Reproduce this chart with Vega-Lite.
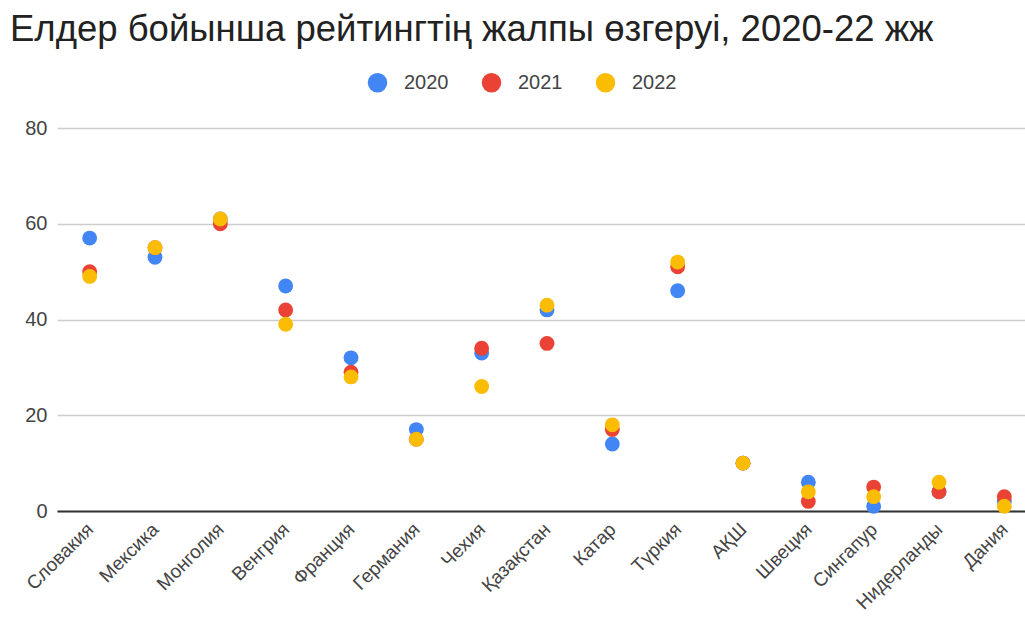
{
  "$schema": "https://vega.github.io/schema/vega-lite/v6.json",
  "autosize": {"type": "none"},
  "width": 980,
  "height": 383,
  "padding": {"left": 57, "top": 128, "right": 0, "bottom": 111},
  "background": "white",
  "title": {
    "text": "Елдер бойынша рейтингтің жалпы өзгеруі, 2020-22 жж",
    "anchor": "start",
    "frame": "group",
    "dx": -47,
    "offset": 4,
    "dy": -20,
    "font": "Liberation Sans",
    "fontSize": 36.5,
    "fontWeight": "normal",
    "color": "#222222"
  },
  "config": {
    "view": {"stroke": null},
    "font": "Liberation Sans"
  },
  "data": {
    "values": [
      {"country": "Словакия", "year": "2020", "value": 57},
      {"country": "Мексика", "year": "2020", "value": 53},
      {"country": "Монголия", "year": "2020", "value": 61},
      {"country": "Венгрия", "year": "2020", "value": 47},
      {"country": "Франция", "year": "2020", "value": 32},
      {"country": "Германия", "year": "2020", "value": 17},
      {"country": "Чехия", "year": "2020", "value": 33},
      {"country": "Қазақстан", "year": "2020", "value": 42},
      {"country": "Катар", "year": "2020", "value": 14},
      {"country": "Түркия", "year": "2020", "value": 46},
      {"country": "АҚШ", "year": "2020", "value": 10},
      {"country": "Швеция", "year": "2020", "value": 6},
      {"country": "Сингапур", "year": "2020", "value": 1},
      {"country": "Нидерланды", "year": "2020", "value": 4},
      {"country": "Дания", "year": "2020", "value": 2},
      {"country": "Словакия", "year": "2021", "value": 50},
      {"country": "Мексика", "year": "2021", "value": 55},
      {"country": "Монголия", "year": "2021", "value": 60},
      {"country": "Венгрия", "year": "2021", "value": 42},
      {"country": "Франция", "year": "2021", "value": 29},
      {"country": "Германия", "year": "2021", "value": 15},
      {"country": "Чехия", "year": "2021", "value": 34},
      {"country": "Қазақстан", "year": "2021", "value": 35},
      {"country": "Катар", "year": "2021", "value": 17},
      {"country": "Түркия", "year": "2021", "value": 51},
      {"country": "АҚШ", "year": "2021", "value": 10},
      {"country": "Швеция", "year": "2021", "value": 2},
      {"country": "Сингапур", "year": "2021", "value": 5},
      {"country": "Нидерланды", "year": "2021", "value": 4},
      {"country": "Дания", "year": "2021", "value": 3},
      {"country": "Словакия", "year": "2022", "value": 49},
      {"country": "Мексика", "year": "2022", "value": 55},
      {"country": "Монголия", "year": "2022", "value": 61},
      {"country": "Венгрия", "year": "2022", "value": 39},
      {"country": "Франция", "year": "2022", "value": 28},
      {"country": "Германия", "year": "2022", "value": 15},
      {"country": "Чехия", "year": "2022", "value": 26},
      {"country": "Қазақстан", "year": "2022", "value": 43},
      {"country": "Катар", "year": "2022", "value": 18},
      {"country": "Түркия", "year": "2022", "value": 52},
      {"country": "АҚШ", "year": "2022", "value": 10},
      {"country": "Швеция", "year": "2022", "value": 4},
      {"country": "Сингапур", "year": "2022", "value": 3},
      {"country": "Нидерланды", "year": "2022", "value": 6},
      {"country": "Дания", "year": "2022", "value": 1}
    ]
  },
  "mark": {"type": "circle", "size": 220, "opacity": 1},
  "encoding": {
    "x": {
      "field": "country",
      "type": "nominal",
      "sort": null,
      "scale": {"type": "point", "padding": 0.5},
      "axis": {
        "title": null,
        "labelAngle": -45,
        "labelAlign": "right",
        "labelBaseline": "middle",
        "labelFontSize": 19,
        "labelColor": "#444444",
        "labelPadding": 15,
        "labelDx": 5,
        "ticks": false,
        "domainColor": "#333333",
        "domainWidth": 2,
        "grid": false,
        "labelOverlap": false
      }
    },
    "y": {
      "field": "value",
      "type": "quantitative",
      "scale": {"domain": [0, 80], "nice": false},
      "axis": {
        "title": null,
        "values": [0, 20, 40, 60, 80],
        "domain": false,
        "ticks": false,
        "labelFontSize": 20,
        "labelColor": "#444444",
        "labelPadding": 10,
        "gridColor": "#cccccc",
        "gridWidth": 1.5
      }
    },
    "color": {
      "field": "year",
      "type": "nominal",
      "scale": {"domain": ["2020", "2021", "2022"], "range": ["#4285F4", "#EA4335", "#FBBC04"]},
      "legend": {
        "title": null,
        "orient": "none",
        "direction": "horizontal",
        "legendX": 310,
        "legendY": -56,
        "symbolType": "circle",
        "symbolSize": 380,
        "symbolOpacity": 1,
        "labelFontSize": 20,
        "labelColor": "#444444",
        "labelOffset": 16,
        "columnPadding": 32
      }
    },
    "order": {"field": "year", "type": "ordinal"}
  }
}
